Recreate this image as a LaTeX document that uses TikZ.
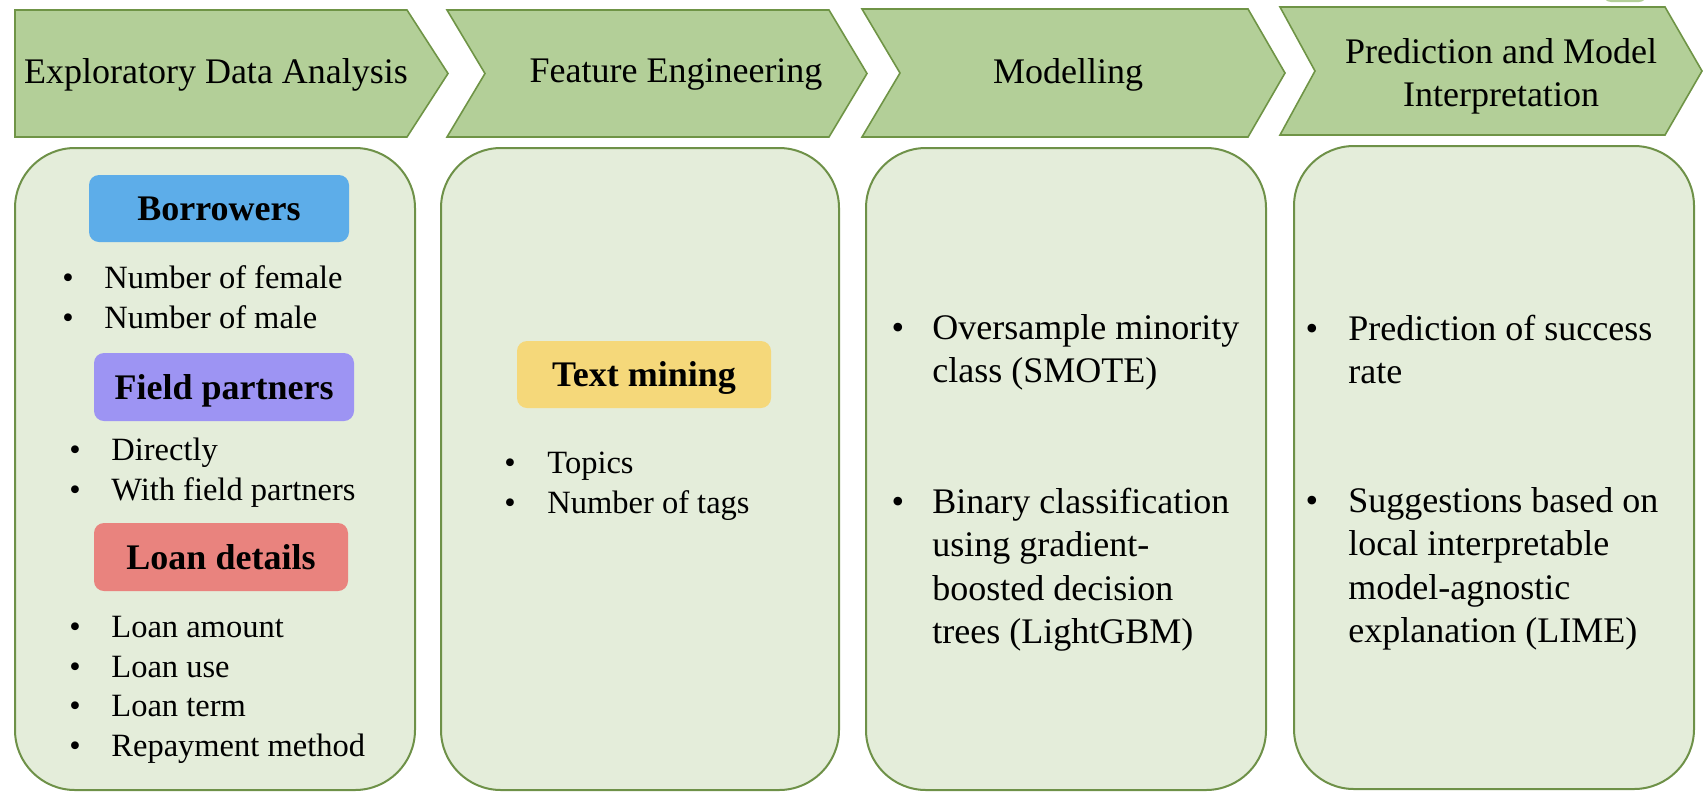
\documentclass[tikz,border=0pt]{standalone}
\usepackage{fontspec}
\setmainfont{Liberation Serif}

\definecolor{chevfill}{HTML}{B3CF98}
\definecolor{chevline}{HTML}{6F9446}
\definecolor{panelfill}{HTML}{E4EDDA}
\definecolor{panelline}{HTML}{6E9148}
\definecolor{tagblue}{HTML}{5DADE9}
\definecolor{tagviolet}{HTML}{9D94F3}
\definecolor{tagred}{HTML}{E9837E}
\definecolor{tagyellow}{HTML}{F5D87A}

% multi-line texts whose base anchor is the first baseline
\newcommand{\leftrows}[1]{\begin{tabular}[t]{@{}l@{}}#1\end{tabular}}
\newcommand{\centerrows}[1]{\begin{tabular}[t]{@{}c@{}}#1\end{tabular}}

\begin{document}
\begin{tikzpicture}[x=0.5pt,y=-0.5pt,
  chev/.style={fill=chevfill,draw=chevline,line width=0.8pt,line join=miter},
  panel/.style={fill=panelfill,draw=panelline,line width=1pt,rounded corners=30pt},
  title/.style={anchor=base,inner sep=0pt,font={\fontsize{18pt}{21.5pt}\selectfont}},
  tagbox/.style={rounded corners=5pt,inner sep=0pt,text height=12pt,text depth=0pt,
    font={\fontsize{18pt}{21.75pt}\selectfont\bfseries}},
  smallbul/.style={anchor=base,inner sep=0pt,font={\fontsize{16.25pt}{20pt}\selectfont}},
  smallitem/.style={anchor=base west,inner sep=0pt,font={\fontsize{16.25pt}{20pt}\selectfont}},
  bigbul/.style={anchor=base,inner sep=0pt,font={\fontsize{18pt}{21.75pt}\selectfont}},
  bigitem/.style={anchor=base west,inner sep=0pt,font={\fontsize{18pt}{21.75pt}\selectfont}}]

\useasboundingbox (0,0) rectangle (1708,804);
\clip (0,0) rectangle (1708,804);

% edge of a shape just above the page
\fill[chevfill,rounded corners=4pt] (1603,-30) rectangle (1647,2);

% process chevrons
\draw[chev] (15,10) -- (407,10) -- (448,73.5) -- (407,137) -- (15,137) -- cycle;
\draw[chev] (447,10) -- (829,10) -- (867,73.5) -- (829,137) -- (447,137) -- (485,73.5) -- cycle;
\draw[chev] (862,9) -- (1248,9) -- (1285,73) -- (1248,137) -- (862,137) -- (900,73) -- cycle;
\draw[chev] (1280,7) -- (1665,7) -- (1702,71) -- (1665,135) -- (1280,135) -- (1315,71) -- cycle;

\node[title] (t1) at (216,83) {Exploratory Data Analysis};
\node[title] (t2) at (676,82) {Feature Engineering};
\node[title] (t3) at (1068,83) {Modelling};
\node[title] (t4) at (1501,63) {\centerrows{Prediction and Model\\Interpretation}};

% panels
\draw[panel] (15,148) rectangle (415,790);
\draw[panel] (441,148) rectangle (839,790);
\draw[panel] (866,148) rectangle (1266,790);
\draw[panel] (1294,146) rectangle (1694,789);

% panel 1: exploratory data analysis
\node[tagbox,fill=tagblue,minimum width=130pt,minimum height=33.5pt] (borrowers) at (219,208.5) {Borrowers};
\node[smallbul] (b1) at (68,288) {•};
\node[smallitem] (i1) at (104,288) {Number of female};
\node[smallbul] (b2) at (68,328) {•};
\node[smallitem] (i2) at (104,328) {Number of male};

\node[tagbox,fill=tagviolet,minimum width=130pt,minimum height=34pt] (partners) at (224,387) {Field partners};
\node[smallbul] (b3) at (75,460) {•};
\node[smallitem] (i3) at (111,460) {Directly};
\node[smallbul] (b4) at (75,500) {•};
\node[smallitem] (i4) at (111,500) {With field partners};

\node[tagbox,fill=tagred,minimum width=127pt,minimum height=34pt] (loan) at (221,557) {Loan details};
\node[smallbul] (b5) at (75,637) {•};
\node[smallitem] (i5) at (111,637) {Loan amount};
\node[smallbul] (b6) at (75,677) {•};
\node[smallitem] (i6) at (111,677) {Loan use};
\node[smallbul] (b7) at (75,716.5) {•};
\node[smallitem] (i7) at (111,716.5) {Loan term};
\node[smallbul] (b8) at (75,756) {•};
\node[smallitem] (i8) at (111,756) {Repayment method};

% panel 2: feature engineering
\node[tagbox,fill=tagyellow,minimum width=127pt,minimum height=33.5pt] (textmining) at (644,374.5) {Text mining};
\node[smallbul] (b9) at (510,473) {•};
\node[smallitem] (i9) at (547,473) {Topics};
\node[smallbul] (b10) at (510,513) {•};
\node[smallitem] (i10) at (547,513) {Number of tags};

% panel 3: modelling
\node[bigbul] (b11) at (898,339) {•};
\node[bigitem] (i11) at (932,339) {\leftrows{Oversample minority\\class (SMOTE)}};
\node[bigbul] (b12) at (898,513) {•};
\node[bigitem] (i12) at (932,513) {\leftrows{Binary classification\\using gradient-\\boosted decision\\trees (LightGBM)}};

% panel 4: prediction and interpretation
\node[bigbul] (b13) at (1312,340) {•};
\node[bigitem] (i13) at (1348,340) {\leftrows{Prediction of success\\rate}};
\node[bigbul] (b14) at (1312,512) {•};
\node[bigitem] (i14) at (1348,512) {\leftrows{Suggestions based on\\local interpretable\\model-agnostic\\explanation (LIME)}};

\end{tikzpicture}
\end{document}
